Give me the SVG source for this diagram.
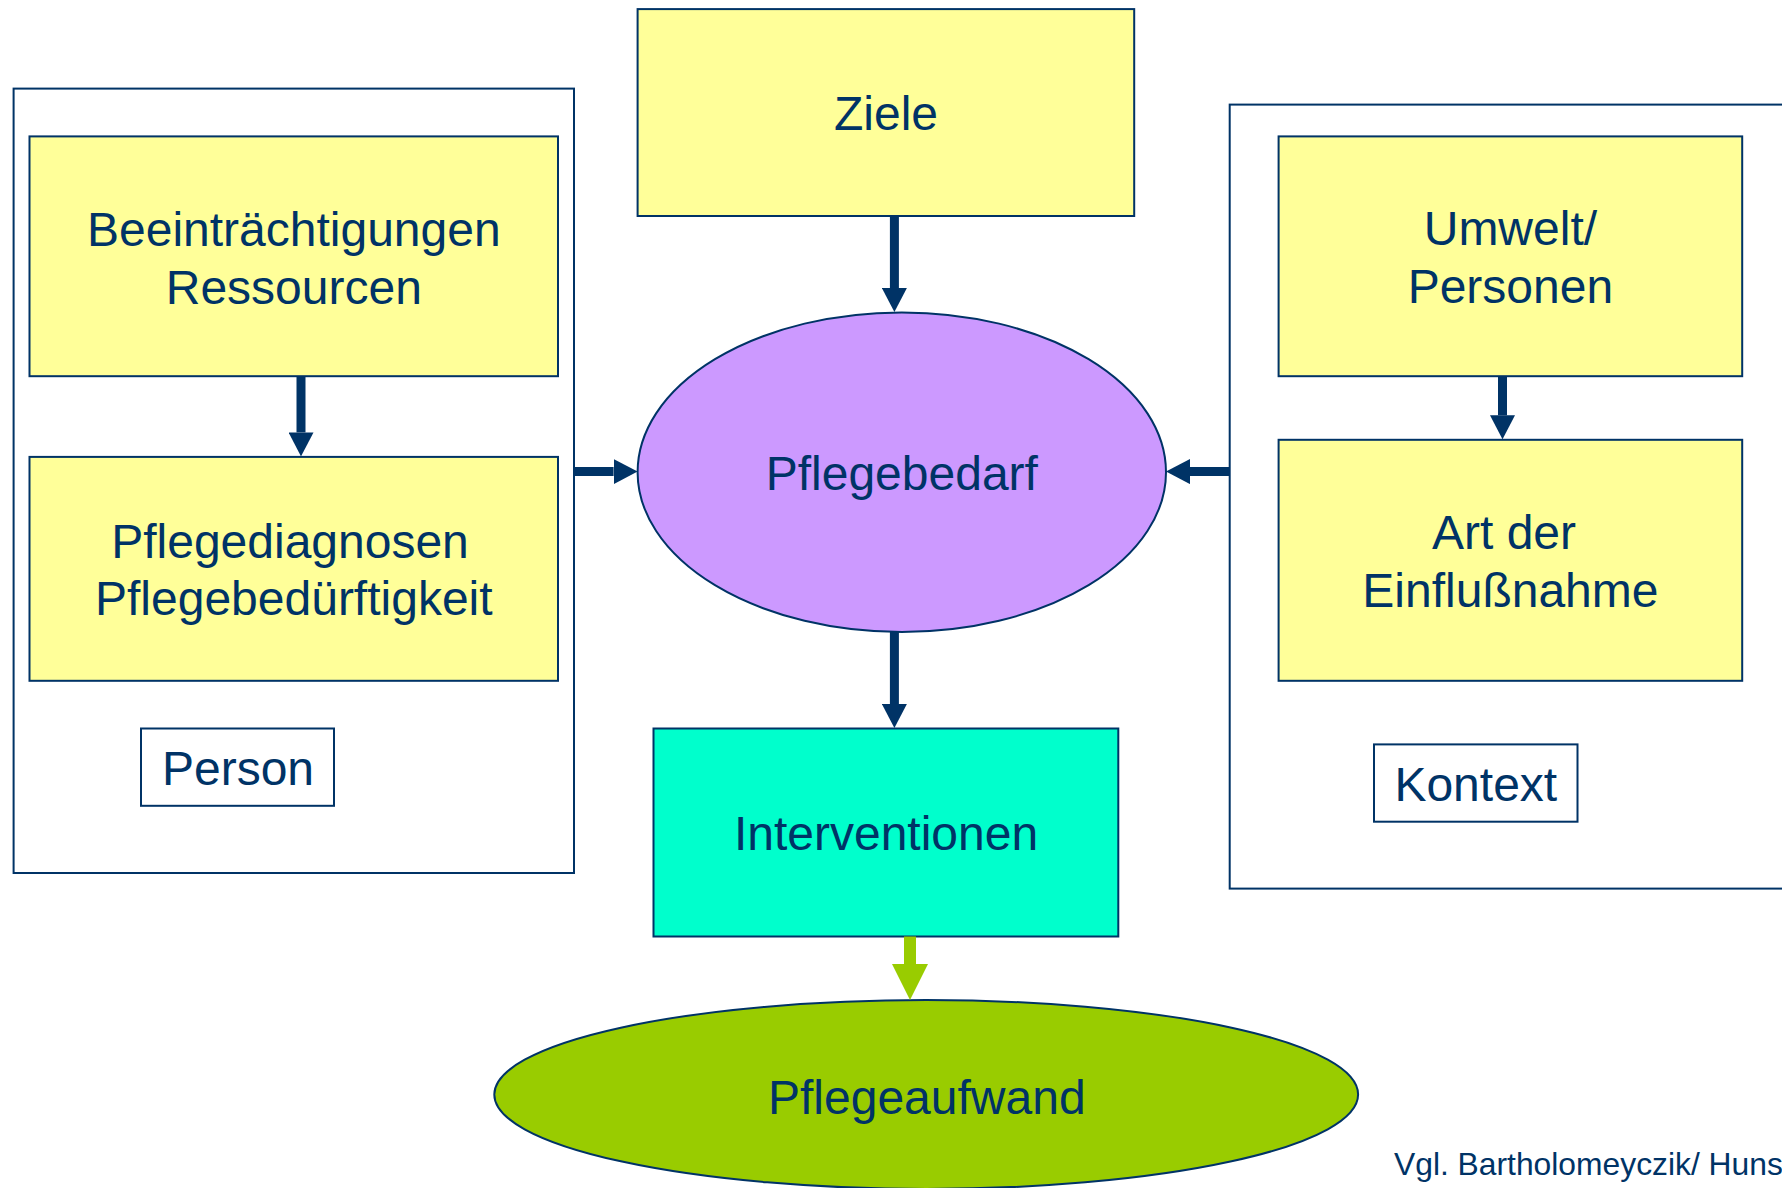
<svg xmlns="http://www.w3.org/2000/svg" width="1782" height="1188" viewBox="0 0 1782 1188">
<defs>
<style>
.frame{fill:#FFFFFF;stroke:#003366;stroke-width:2}
.yel{fill:#FFFF99;stroke:#003366;stroke-width:2}
.lbl{font-family:"Liberation Sans",Arial,sans-serif;font-size:48px;fill:#003366;text-anchor:middle}
.conn{stroke:#003366;stroke-width:9;fill:none}
.connG{stroke:#99CC00;stroke-width:12;fill:none}
</style>
<marker id="ah" markerUnits="userSpaceOnUse" viewBox="0 0 24 25" markerWidth="24" markerHeight="25" refX="0" refY="12.5" orient="auto">
<path d="M0,0 L24,12.5 L0,25 Z" fill="#003366"/>
</marker>
<marker id="ahG" markerUnits="userSpaceOnUse" viewBox="0 0 36 36" markerWidth="36" markerHeight="36" refX="0" refY="18" orient="auto">
<path d="M0,0 L36,18 L0,36 Z" fill="#99CC00"/>
</marker>
</defs>
<rect width="1782" height="1188" fill="#FFFFFF"/>

<g id="person-frame">
<rect class="frame" x="13.6" y="88.6" width="560.4" height="784.4"/>
</g>
<g id="kontext-frame">
<rect class="frame" x="1229.7" y="104.6" width="600" height="784"/>
</g>

<g id="beeintraechtigungen">
<rect class="yel" x="29.5" y="136.4" width="528.5" height="239.8"/>
<text class="lbl" x="293.8" y="246">Beeinträchtigungen</text>
<text class="lbl" x="293.8" y="303.5">Ressourcen</text>
</g>
<g id="pflegediagnosen">
<rect class="yel" x="29.5" y="456.9" width="528.5" height="223.9"/>
<text class="lbl" x="290" y="557.5">Pflegediagnosen</text>
<text class="lbl" x="293.8" y="615">Pflegebedürftigkeit</text>
</g>
<g id="person">
<rect class="frame" x="141" y="728.5" width="193" height="77.3"/>
<text class="lbl" x="238" y="785">Person</text>
</g>

<g id="ziele">
<rect class="yel" x="637.6" y="9.1" width="496.6" height="206.9"/>
<text class="lbl" x="886" y="130">Ziele</text>
</g>
<g id="pflegebedarf">
<ellipse cx="901.8" cy="472.2" rx="264.2" ry="159.8" fill="#CC99FF" stroke="#003366" stroke-width="2"/>
<text class="lbl" x="901.8" y="490">Pflegebedarf</text>
</g>
<g id="interventionen">
<rect x="653.5" y="728.5" width="464.8" height="208" fill="#00FFCC" stroke="#003366" stroke-width="2"/>
<text class="lbl" x="886" y="850">Interventionen</text>
</g>
<g id="pflegeaufwand">
<ellipse cx="926.2" cy="1094.5" rx="431.9" ry="94.5" fill="#99CC00" stroke="#003366" stroke-width="2"/>
<text class="lbl" x="926.8" y="1114">Pflegeaufwand</text>
</g>

<g id="umwelt">
<rect class="yel" x="1278.6" y="136.4" width="463.6" height="239.8"/>
<text class="lbl" x="1510.4" y="245">Umwelt/</text>
<text class="lbl" x="1510.4" y="302.5">Personen</text>
</g>
<g id="einflussnahme">
<rect class="yel" x="1278.6" y="439.8" width="463.6" height="241"/>
<text class="lbl" x="1504" y="549">Art der</text>
<text class="lbl" x="1510.4" y="606.5">Einflußnahme</text>
</g>
<g id="kontext">
<rect class="frame" x="1374" y="744.4" width="203.5" height="77.3"/>
<text class="lbl" x="1475.8" y="801">Kontext</text>
</g>

<g id="connectors">
<line class="conn" x1="301" y1="376.2" x2="301" y2="432.4" marker-end="url(#ah)"/>
<line class="conn" x1="1502.5" y1="376.2" x2="1502.5" y2="415.3" marker-end="url(#ah)"/>
<line class="conn" x1="894.4" y1="216" x2="894.4" y2="288" marker-end="url(#ah)"/>
<line class="conn" x1="894.4" y1="632" x2="894.4" y2="704" marker-end="url(#ah)"/>
<line class="conn" x1="574" y1="471.6" x2="613.6" y2="471.6" marker-end="url(#ah)"/>
<line class="conn" x1="1229.7" y1="471.6" x2="1190" y2="471.6" marker-end="url(#ah)"/>
<line class="connG" x1="910" y1="936.5" x2="910" y2="964" marker-end="url(#ahG)"/>
</g>

<g id="citation">
<text x="1394" y="1175" font-family="'Liberation Sans',Arial,sans-serif" font-size="31.8" fill="#003366">Vgl. Bartholomeyczik/ Huns</text>
</g>
</svg>
